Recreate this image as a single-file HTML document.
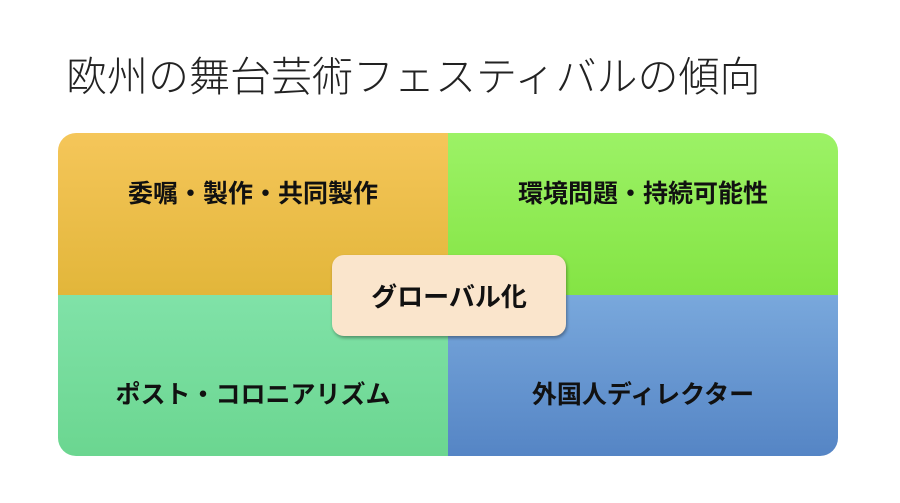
<!DOCTYPE html>
<html><head><meta charset="utf-8"><style>
body{margin:0;width:900px;height:503px;background:#fff;position:relative;overflow:hidden;font-family:"Liberation Sans","Noto Sans CJK JP",sans-serif}
.t{position:absolute;left:66px;top:43px;font-size:41px;color:#222;white-space:nowrap;font-weight:300;letter-spacing:0px}
.q{position:absolute;display:flex;justify-content:center;font-weight:bold;font-size:25px;color:#111;box-sizing:border-box}
.tl{left:58px;top:133px;width:390px;height:162px;background:linear-gradient(#f5c65a,#e2b63a);border-radius:18px 0 0 0;align-items:flex-start;padding-top:41px}
.tr{left:448px;top:133px;width:390px;height:162px;background:linear-gradient(#9cf266,#84e444);border-radius:0 18px 0 0;align-items:flex-start;padding-top:41px}
.bl{left:58px;top:295px;width:390px;height:161px;background:linear-gradient(#80e2a8,#6bd690);border-radius:0 0 0 18px;align-items:flex-end;padding-bottom:45px}
.br{left:448px;top:295px;width:390px;height:161px;background:linear-gradient(#79a8dc,#5585c5);border-radius:0 0 18px 0;align-items:flex-end;padding-bottom:45px}
.c{position:absolute;left:332px;top:255px;width:234px;height:81px;background:#fae5cc;border-radius:12px;box-shadow:1px 2px 3px rgba(0,0,0,.35);display:flex;align-items:center;justify-content:center;font-weight:bold;font-size:26px;color:#111}
</style></head><body>
<div class="t">欧州の舞台芸術フェスティバルの傾向</div>
<div class="q tl">委嘱・製作・共同製作</div>
<div class="q tr">環境問題・持続可能性</div>
<div class="q bl">ポスト・コロニアリズム</div>
<div class="q br">外国人ディレクター</div>
<div class="c">グローバル化</div>
</body></html>
